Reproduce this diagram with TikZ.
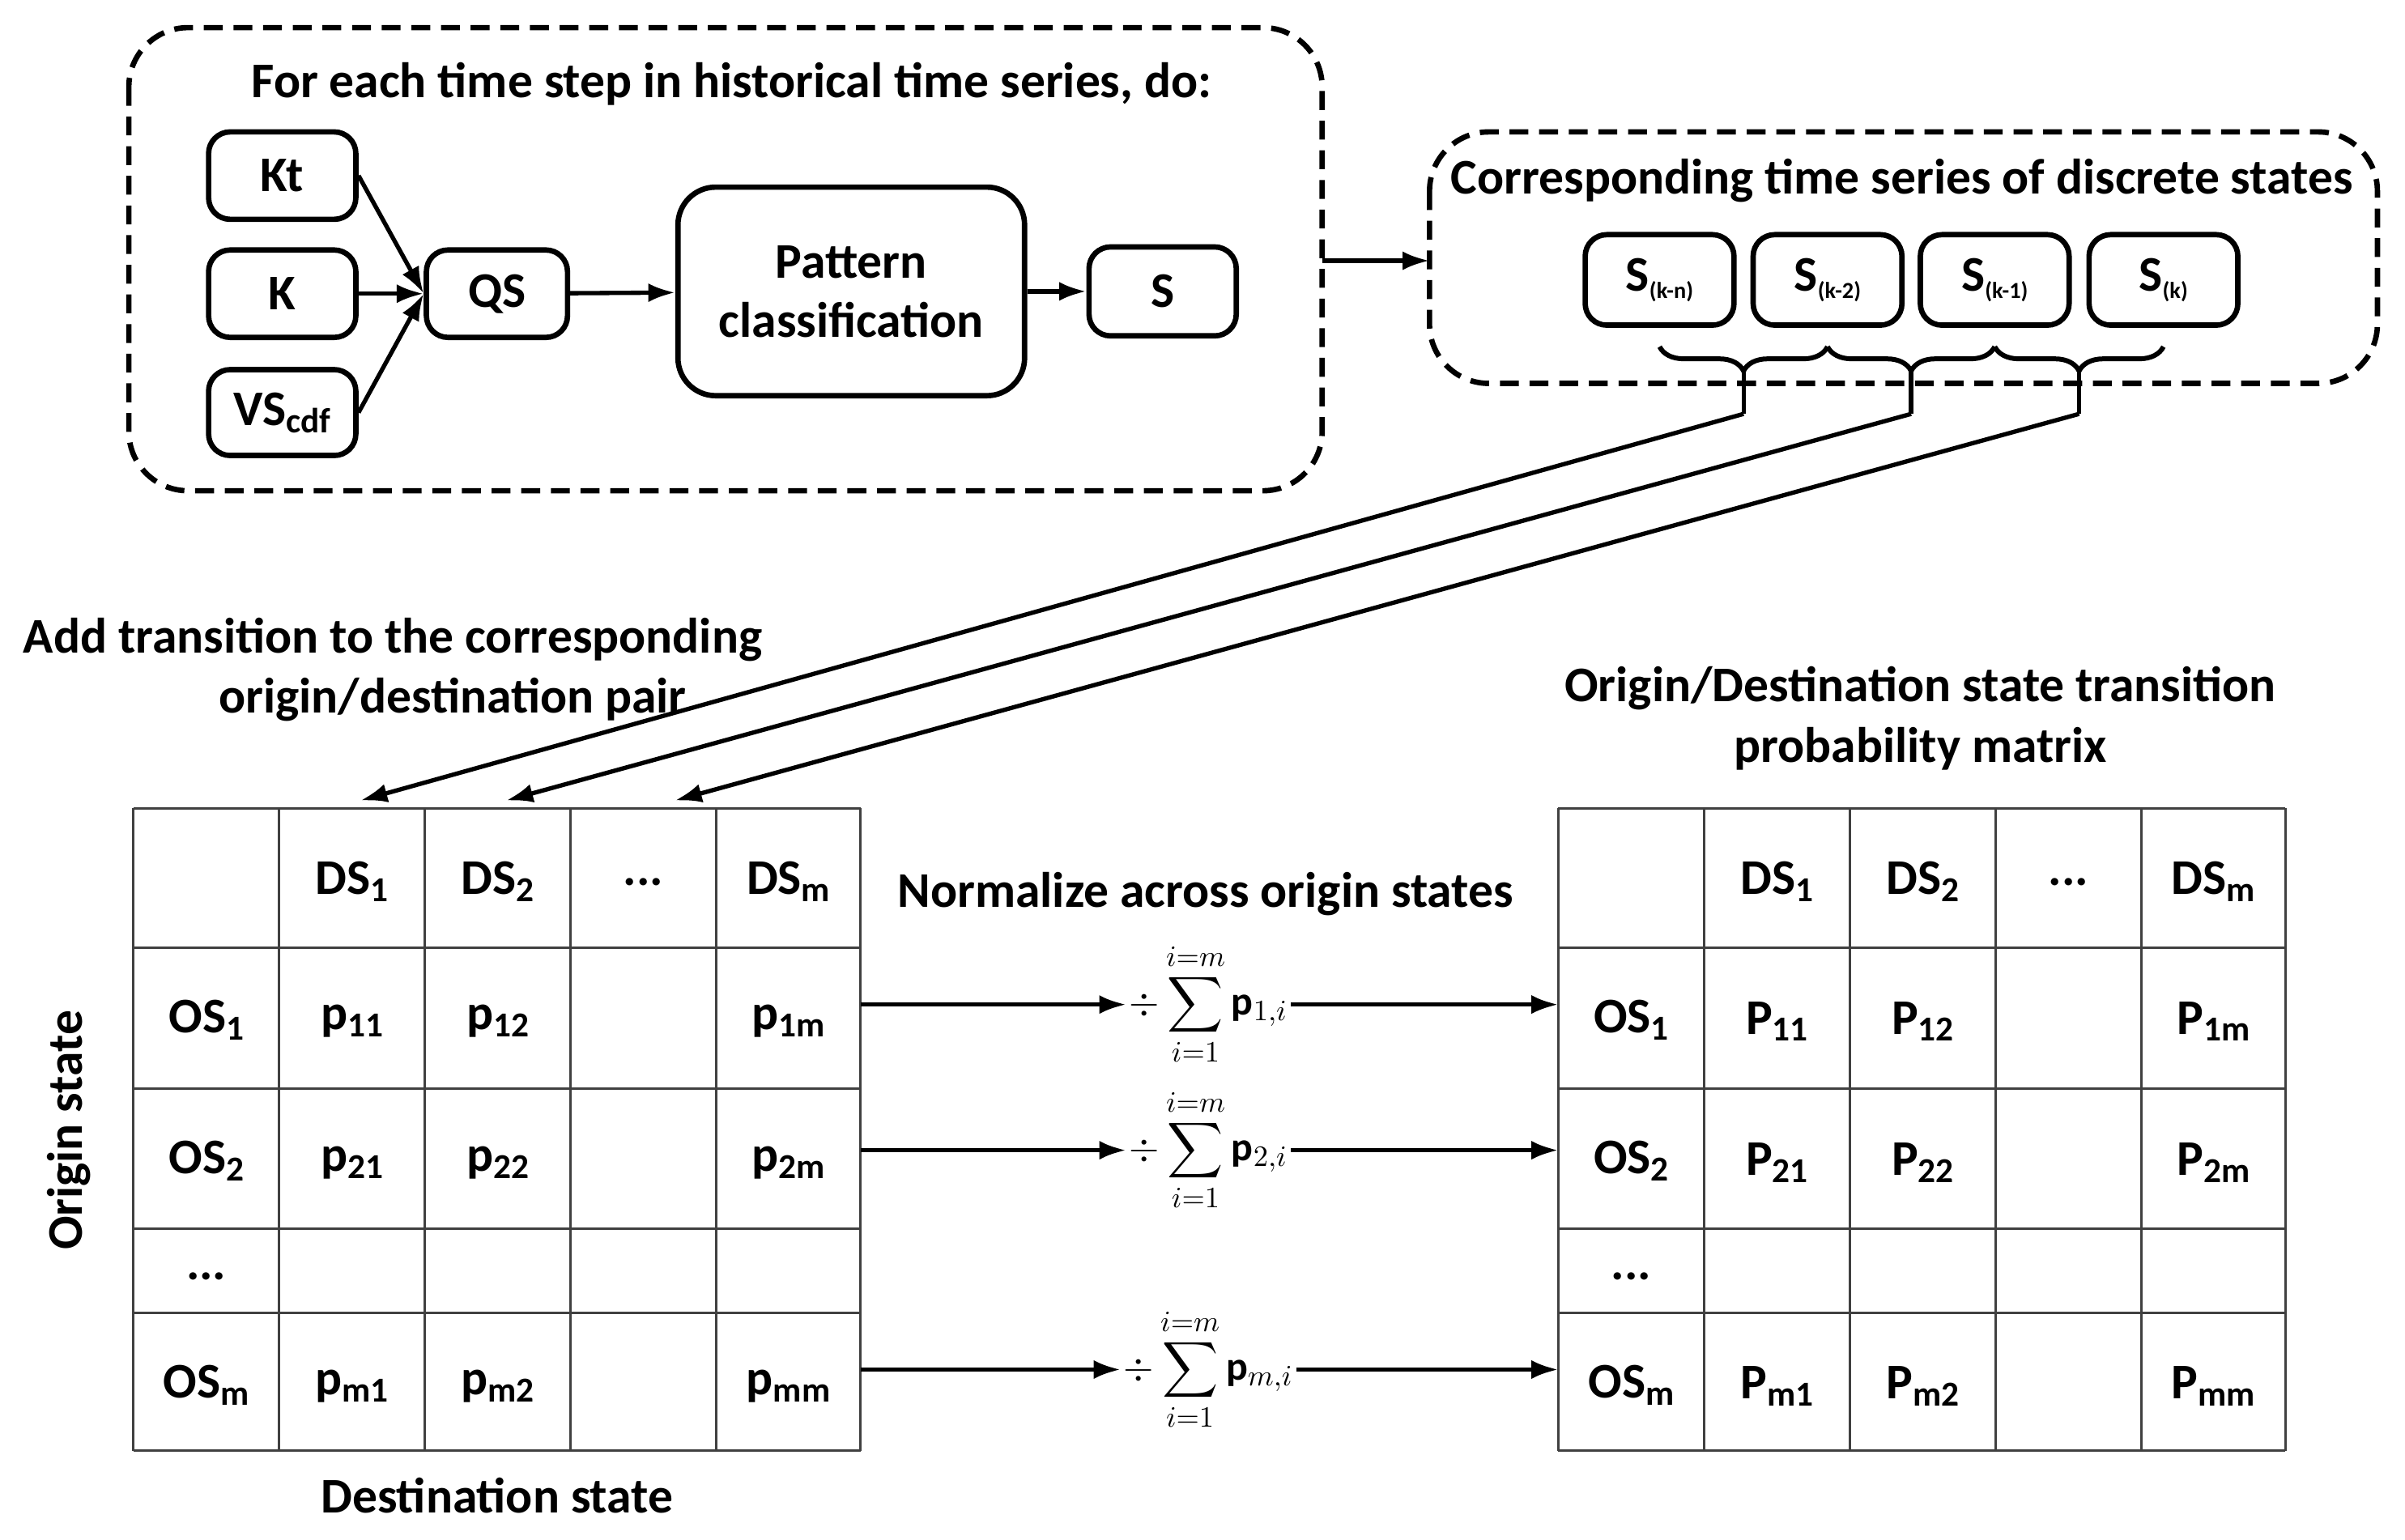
\documentclass[tikz,border=0pt]{standalone}
\usepackage{fontspec}
\setmainfont{Carlito}
\usepackage{amsmath}
\usetikzlibrary{arrows.meta,decorations.pathreplacing}
\newcommand{\lowsub}[1]{\raisebox{-0.3ex}{\fontsize{13}{13}\selectfont #1}}
\newcommand{\tinysub}[1]{\raisebox{-0.3ex}{\fontsize{8.5}{8.5}\selectfont #1}}
\begin{document}
\begin{tikzpicture}[x=0.2mm,y=-0.2mm,
  every node/.style={font=\fontsize{18.5}{22}\selectfont\bfseries},
  box/.style={draw,line width=2pt,rounded corners=8pt,inner sep=0pt},
  dbox/.style={draw,line width=2pt,dash pattern=on 7pt off 4pt,rounded corners=22pt},
  arr/.style={line width=1.6pt,-{Latex[length=10pt,width=7pt]}},
  grid/.style={line width=0.9pt,draw=black!75}]
\useasboundingbox (0,0) rectangle (1568,1004);
% top left dashed box
\draw[dbox] (84,18) rectangle (862,320);
\node (t1) at (477,55) {For each time step in historical time series, do:};
\node[box] (kt) at (184,114.5) [minimum width=19.2mm,minimum height=11.4mm] {Kt};
\node[box] (k) at (184,191.5) [minimum width=19.2mm,minimum height=11.4mm] {K};
\node[box] (vs) at (184,269) [minimum width=19.2mm,minimum height=11.2mm] {VS\lowsub{cdf}};
\node[box] (qs) at (324,191.5) [minimum width=18.4mm,minimum height=11.4mm] {QS};
\node[box,rounded corners=14pt,align=center] (pc) at (555,190) [minimum width=45.2mm,minimum height=27.2mm] {Pattern\\classification};
\node[box] (s) at (758,190) [minimum width=19.2mm,minimum height=11.6mm] {S};
\draw[arr] (kt.east) -- (qs.west);
\draw[arr] (k.east) -- (qs.west);
\draw[arr] (vs.east) -- (qs.west);
\draw[arr] (qs) -- (pc);
\draw[arr] (pc) -- (s);
\coordinate (lo) at (862,170);
\coordinate (ri) at (932,170);
\draw[arr] (lo) -- (ri);
% right dashed box
\draw[dbox] (932,86) rectangle (1550,250);
\node (t2) at (1240,118) {Corresponding time series of discrete states};
\foreach \n/\cx/\lab in {s1/1082/{(k-n)},s2/1191.5/{(k-2)},s3/1300.5/{(k-1)},s4/1410.5/{(k)}}
  \node[box] (\n) at (\cx,182.5) [minimum width=19.4mm,minimum height=11.8mm] {S\tinysub{\lab}};
\foreach \a/\b/\c in {s1/s2/b1,s2/s3/b2,s3/s4/b3}{
  \draw[line width=1.8pt,decorate,decoration={brace,mirror,amplitude=9pt}]
    ([yshift=-7pt]\a.south) -- coordinate[yshift=-9pt] (\c) ([yshift=-7pt]\b.south);
}
\draw[line width=1.6pt] (b1) -- ++(0,28) coordinate (d1);
\draw[line width=1.6pt] (b2) -- ++(0,28) coordinate (d2);
\draw[line width=1.6pt] (b3) -- ++(0,28) coordinate (d3);
\coordinate (a1) at (235,522);
\coordinate (a2) at (330,522);
\coordinate (a3) at (440,522);
\draw[arr] (d1) -- (a1);
\draw[arr] (d2) -- (a2);
\draw[arr] (d3) -- (a3);
% labels
\node (l1) at (256,417) {Add transition to the corresponding};
\node (l2) at (295,456) {origin/destination pair};
\node (l3) at (1252,449) {Origin/Destination state transition};
\node (l4) at (1252,488) {probability matrix};
\node (l5) at (786,583) {Normalize across origin states};
\node (l6) at (324,975) {Destination state};
\node[rotate=90] (l7) at (45,737) {Origin state};
% tables
\foreach \xo/\P/\tn in {0/p/L,929/P/R}{
  \begin{scope}[xshift=\xo*0.2mm]
  \foreach \x in {87,182,277,372,467,561} \draw[grid] (\x,527) -- (\x,946);
  \foreach \y in {527,618,710,801,856,946} \draw[grid] (87,\y) -- (561,\y);
  \node at (229.5,575) {DS\lowsub{1}};
  \node at (324.5,575) {DS\lowsub{2}};
  \node at (419.5,575) {...};
  \node at (514,575) {DS\lowsub{m}};
  \node at (134.5,665) {OS\lowsub{1}};
  \node at (134.5,757) {OS\lowsub{2}};
  \node at (134.5,832) {...};
  \node at (134.5,903) {OS\lowsub{m}};
  \node at (229.5,666) {\P\lowsub{11}};
  \node at (324.5,666) {\P\lowsub{12}};
  \node at (514,666) {\P\lowsub{1m}};
  \node at (229.5,758) {\P\lowsub{21}};
  \node at (324.5,758) {\P\lowsub{22}};
  \node at (514,758) {\P\lowsub{2m}};
  \node at (229.5,904) {\P\lowsub{m1}};
  \node at (324.5,904) {\P\lowsub{m2}};
  \node at (514,904) {\P\lowsub{mm}};
  \end{scope}}
% normalization arrows
\foreach \y/\r/\nm in {655/1/n1,750/2/n2,893/m/n3}{
  \node[font=\fontsize{15}{18}\selectfont,inner sep=1pt] (\nm) at (788,\y) {$\displaystyle\div\sum_{i=1}^{i=m}\mathbf{p}_{\r,i}$};
  \coordinate (\nm l) at (561,\y);
  \coordinate (\nm r) at (1016,\y);
  \draw[arr] (\nm l) -- (\nm.west);
  \draw[arr] (\nm.east) -- (\nm r);
}
\end{tikzpicture}
\end{document}
